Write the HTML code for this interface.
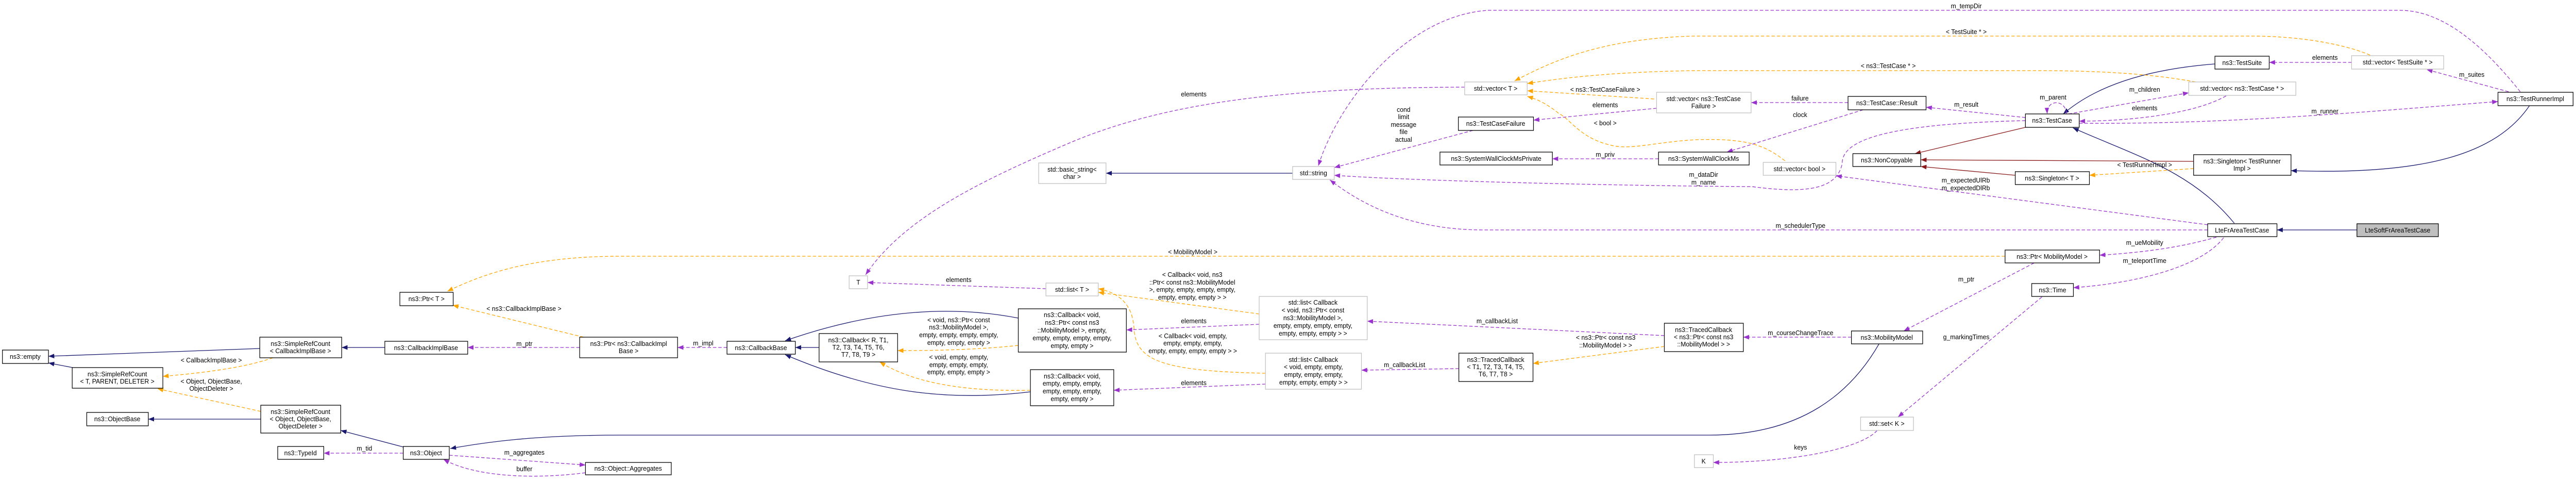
<!DOCTYPE html>
<html><head><meta charset="utf-8"><style>
html,body{margin:0;padding:0;background:#fff;width:100%;height:100%;overflow:hidden;}
svg{display:block;width:100%;height:100vh;}
text{font-family:"Liberation Sans",sans-serif;font-size:13px;fill:#000;}
.n{fill:#fff;stroke:#000;stroke-width:1.3;}
.g{fill:#fff;stroke:#bfbfbf;stroke-width:1.3;}
.s{fill:#bfbfbf;stroke:#000;stroke-width:1.3;}
.b{fill:none;stroke:#191970;stroke-width:1.3;marker-end:url(#mb);}
.r{fill:none;stroke:#8b1a1a;stroke-width:1.3;marker-end:url(#mr);}
.p{fill:none;stroke:#9a32cd;stroke-width:1.3;stroke-dasharray:7,4;marker-end:url(#mp);}
.o{fill:none;stroke:#ffa500;stroke-width:1.3;stroke-dasharray:7,4;marker-end:url(#mo);}
</style></head><body>
<svg viewBox="0 0 5315 933" preserveAspectRatio="none" xmlns="http://www.w3.org/2000/svg">
<defs>
<marker id="mb" markerUnits="userSpaceOnUse" markerWidth="12" markerHeight="9" refX="12" refY="4.5" orient="auto"><path d="M0,0 L12,4.5 L0,9 z" fill="#191970"/></marker>
<marker id="mr" markerUnits="userSpaceOnUse" markerWidth="12" markerHeight="9" refX="12" refY="4.5" orient="auto"><path d="M0,0 L12,4.5 L0,9 z" fill="#8b1a1a"/></marker>
<marker id="mp" markerUnits="userSpaceOnUse" markerWidth="12" markerHeight="9" refX="12" refY="4.5" orient="auto"><path d="M0,0 L12,4.5 L0,9 z" fill="#9a32cd"/></marker>
<marker id="mo" markerUnits="userSpaceOnUse" markerWidth="12" markerHeight="9" refX="12" refY="4.5" orient="auto"><path d="M0,0 L12,4.5 L0,9 z" fill="#ffa500"/></marker>
</defs>

<path class="b" d="M536,676 L100,691"/>
<path class="b" d="M150,713 L100,704"/>
<path class="b" d="M794,674 L705,674"/>
<path class="b" d="M538,813 L306,813"/>
<path class="b" d="M832,867 L703,835"/>
<path class="b" d="M1690,674 L1641,674"/>
<path class="b" d="M2101,617 C1980,595 1820,595 1620,661"/>
<path class="b" d="M2126,760 C1950,780 1800,760 1620,688"/>
<path class="b" d="M3877,667 C3820,760 3720,844 3526,844 L1282,844 C1100,844 1000,858 929,870"/>
<path class="b" d="M2667,336 L2282,336"/>
<path class="b" d="M4570,124 C4420,135 4320,170 4257,221"/>
<path class="b" d="M4610,433 C4520,330 4400,300 4277,248"/>
<path class="b" d="M5219,205 C5150,300 5000,340 4727,331"/>
<path class="b" d="M4863,446 L4698,446"/>

<path class="r" d="M4179,247 L3951,298"/>
<path class="r" d="M4526,313 L3963,310"/>
<path class="r" d="M4158,340 L3963,323"/>

<path class="p" d="M832,879 L668,879"/>
<path class="p" d="M927,883 L1208,902"/>
<path class="p" d="M1208,917 C1100,930 980,925 915,891"/>
<path class="p" d="M1196,674 L965,674"/>
<path class="p" d="M1500,674 L1398,674"/>
<path class="p" d="M2158,560 L1790,548"/>
<path class="p" d="M3022,169 C2700,170 2420,190 2200,280 C2000,360 1860,430 1786,533"/>
<path class="p" d="M2598,629 L2324,640"/>
<path class="p" d="M2611,745 L2298,757"/>
<path class="p" d="M3434,651 L2821,623"/>
<path class="p" d="M3010,715 L2809,718"/>
<path class="p" d="M3820,654 L3597,654"/>
<path class="p" d="M4197,510 L3928,642"/>
<path class="p" d="M4213,576 L3916,809"/>
<path class="p" d="M3873,835 C3840,870 3700,897 3535,897"/>
<path class="p" d="M4573,460 C4500,480 4420,490 4332,495"/>
<path class="p" d="M4588,461 C4540,520 4400,550 4278,558"/>
<path class="p" d="M4555,446 L3059,446 C2900,446 2800,390 2744,349"/>
<path class="p" d="M4555,436 L3788,341"/>
<path class="p" d="M4179,234 C3900,240 3800,270 3801,317 C3790,370 3720,375 3615,362 C3300,360 2900,350 2753,340"/>
<path class="p" d="M3039,253 L2753,325"/>
<path class="p" d="M5200,178 C5100,60 5020,20 4951,20 L3071,20 C2900,30 2760,200 2720,322"/>
<path class="p" d="M3418,210 L3164,233"/>
<path class="p" d="M3422,308 L3203,308"/>
<path class="p" d="M3813,199 L3613,199"/>
<path class="p" d="M3844,213 L3563,295"/>
<path class="p" d="M4179,228 L3974,208"/>
<path class="p" d="M4264,221 C4262,192 4222,192 4224,221"/>
<path class="p" d="M4268,221 L4516,180"/>
<path class="p" d="M4593,186 C4530,220 4400,235 4290,235"/>
<path class="p" d="M4290,239 C4600,242 4900,215 5154,197"/>
<path class="p" d="M4852,121 L4682,121"/>
<path class="p" d="M5176,178 L5007,135"/>

<path class="o" d="M563,694 C500,715 400,725 336,730"/>
<path class="o" d="M538,798 L325,754"/>
<path class="o" d="M1204,654 L934,592"/>
<path class="o" d="M4137,497 L1282,497 C1100,497 1000,530 923,565"/>
<path class="o" d="M2101,670 C2000,680 1900,680 1852,680"/>
<path class="o" d="M2126,757 C1980,760 1880,740 1815,702"/>
<path class="o" d="M2598,609 L2266,567"/>
<path class="o" d="M2611,724 C2400,720 2345,700 2340,640 C2338,600 2320,570 2266,560"/>
<path class="o" d="M3434,672 L3163,705"/>
<path class="o" d="M4890,107 C4850,90 4760,70 4645,70 L3495,70 C3300,75 3200,120 3125,157"/>
<path class="o" d="M4530,159 C4450,145 4350,137 4200,137 L3495,137 C3300,140 3200,155 3151,162"/>
<path class="o" d="M3413,192 L3151,176"/>
<path class="o" d="M3683,312 C3640,280 3600,268 3500,271 C3420,275 3370,290 3330,283 C3260,270 3240,230 3216,220 C3190,200 3170,192 3151,187"/>
<path class="o" d="M4526,327 L4311,340"/>

<g text-anchor="middle">
<rect class="n" x="5" y="679" width="95" height="26"/><text x="52" y="696">ns3::empty</text>
<rect class="n" x="536" y="654" width="169" height="40"/><text x="620" y="671">ns3::SimpleRefCount</text><text x="620" y="685">&lt; CallbackImplBase &gt;</text>
<rect class="n" x="149" y="713" width="187" height="40"/><text x="242" y="730">ns3::SimpleRefCount</text><text x="242" y="744">&lt; T, PARENT, DELETER &gt;</text>
<rect class="n" x="179" y="800" width="127" height="26"/><text x="242" y="817">ns3::ObjectBase</text>
<rect class="n" x="538" y="786" width="165" height="54"/><text x="620" y="803">ns3::SimpleRefCount</text><text x="620" y="817">&lt; Object, ObjectBase,</text><text x="620" y="831">ObjectDeleter &gt;</text>
<rect class="n" x="573" y="866" width="95" height="25"/><text x="620" y="883">ns3::TypeId</text>
<rect class="n" x="832" y="866" width="95" height="25"/><text x="879" y="883">ns3::Object</text>
<rect class="n" x="825" y="567" width="110" height="26"/><text x="880" y="584">ns3::Ptr&lt; T &gt;</text>
<rect class="n" x="794" y="662" width="171" height="25"/><text x="879" y="679">ns3::CallbackImplBase</text>
<rect class="n" x="1196" y="654" width="202" height="40"/><text x="1297" y="671">ns3::Ptr&lt; ns3::CallbackImpl</text><text x="1297" y="685">Base &gt;</text>
<rect class="n" x="1500" y="662" width="141" height="25"/><text x="1570" y="679">ns3::CallbackBase</text>
<rect class="n" x="1690" y="647" width="162" height="55"/><text x="1771" y="664">ns3::Callback&lt; R, T1,</text><text x="1771" y="678">T2, T3, T4, T5, T6,</text><text x="1771" y="692">T7, T8, T9 &gt;</text>
<rect class="n" x="1208" y="897" width="177" height="24"/><text x="1296" y="913">ns3::Object::Aggregates</text>
<rect class="g" x="1752" y="535" width="38" height="25"/><text x="1771" y="552">T</text>
<rect class="g" x="2158" y="549" width="108" height="25"/><text x="2212" y="566">std::list&lt; T &gt;</text>
<rect class="n" x="2101" y="599" width="223" height="84"/><text x="2212" y="615">ns3::Callback&lt; void,</text><text x="2212" y="630">ns3::Ptr&lt; const ns3</text><text x="2212" y="645">::MobilityModel &gt;, empty,</text><text x="2212" y="660">empty, empty, empty, empty,</text><text x="2212" y="675">empty, empty &gt;</text>
<rect class="n" x="2126" y="717" width="172" height="70"/><text x="2212" y="734">ns3::Callback&lt; void,</text><text x="2212" y="748">empty, empty, empty,</text><text x="2212" y="763">empty, empty, empty,</text><text x="2212" y="778">empty, empty &gt;</text>
<rect class="g" x="2598" y="575" width="223" height="84"/><text x="2709" y="591">std::list&lt; Callback</text><text x="2709" y="606">&lt; void, ns3::Ptr&lt; const</text><text x="2709" y="621">ns3::MobilityModel &gt;,</text><text x="2709" y="636">empty, empty, empty, empty,</text><text x="2709" y="651">empty, empty, empty &gt; &gt;</text>
<rect class="g" x="2611" y="685" width="198" height="70"/><text x="2710" y="702">std::list&lt; Callback</text><text x="2710" y="716">&lt; void, empty, empty,</text><text x="2710" y="731">empty, empty, empty,</text><text x="2710" y="746">empty, empty, empty &gt; &gt;</text>
<rect class="n" x="3010" y="685" width="153" height="55"/><text x="3086" y="702">ns3::TracedCallback</text><text x="3086" y="716">&lt; T1, T2, T3, T4, T5,</text><text x="3086" y="730">T6, T7, T8 &gt;</text>
<rect class="n" x="3434" y="627" width="163" height="55"/><text x="3515" y="644">ns3::TracedCallback</text><text x="3515" y="658">&lt; ns3::Ptr&lt; const ns3</text><text x="3515" y="672">::MobilityModel &gt; &gt;</text>
<rect class="g" x="3496" y="882" width="39" height="25"/><text x="3515" y="899">K</text>
<rect class="n" x="4137" y="485" width="195" height="25"/><text x="4234" y="502">ns3::Ptr&lt; MobilityModel &gt;</text>
<rect class="n" x="4192" y="550" width="86" height="25"/><text x="4235" y="567">ns3::Time</text>
<rect class="n" x="3820" y="642" width="147" height="25"/><text x="3893" y="659">ns3::MobilityModel</text>
<rect class="g" x="3839" y="809" width="109" height="26"/><text x="3893" y="826">std::set&lt; K &gt;</text>
<rect class="n" x="4555" y="434" width="143" height="25"/><text x="4626" y="451">LteFrAreaTestCase</text>
<rect class="s" x="4863" y="434" width="168" height="25"/><text x="4947" y="451">LteSoftFrAreaTestCase</text>
<rect class="g" x="2143" y="316" width="139" height="40"/><text x="2212" y="333">std::basic_string&lt;</text><text x="2212" y="347">char &gt;</text>
<rect class="g" x="3022" y="159" width="129" height="25"/><text x="3086" y="176">std::vector&lt; T &gt;</text>
<rect class="n" x="3009" y="227" width="155" height="26"/><text x="3086" y="244">ns3::TestCaseFailure</text>
<rect class="n" x="2971" y="295" width="232" height="25"/><text x="3087" y="312">ns3::SystemWallClockMsPrivate</text>
<rect class="g" x="2667" y="323" width="86" height="25"/><text x="2710" y="340">std::string</text>
<rect class="g" x="3418" y="179" width="195" height="40"/><text x="3515" y="196">std::vector&lt; ns3::TestCase</text><text x="3515" y="210">Failure &gt;</text>
<rect class="n" x="3422" y="295" width="187" height="25"/><text x="3515" y="312">ns3::SystemWallClockMs</text>
<rect class="n" x="3813" y="187" width="161" height="26"/><text x="3893" y="204">ns3::TestCase::Result</text>
<rect class="n" x="4179" y="221" width="111" height="26"/><text x="4234" y="238">ns3::TestCase</text>
<rect class="n" x="3823" y="298" width="140" height="25"/><text x="3893" y="315">ns3::NonCopyable</text>
<rect class="g" x="3638" y="315" width="150" height="25"/><text x="3713" y="332">std::vector&lt; bool &gt;</text>
<rect class="n" x="4158" y="333" width="153" height="25"/><text x="4234" y="350">ns3::Singleton&lt; T &gt;</text>
<rect class="n" x="4570" y="109" width="112" height="25"/><text x="4626" y="126">ns3::TestSuite</text>
<rect class="g" x="4516" y="159" width="221" height="26"/><text x="4626" y="176">std::vector&lt; ns3::TestCase * &gt;</text>
<rect class="n" x="4526" y="300" width="201" height="40"/><text x="4626" y="317">ns3::Singleton&lt; TestRunner</text><text x="4626" y="331">Impl &gt;</text>
<rect class="g" x="4852" y="108" width="190" height="26"/><text x="4947" y="125">std::vector&lt; TestSuite * &gt;</text>
<rect class="n" x="5154" y="179" width="155" height="26"/><text x="5231" y="196">ns3::TestRunnerImpl</text>

<text x="436" y="703">&lt; CallbackImplBase &gt;</text>
<text x="436" y="744">&lt; Object, ObjectBase,</text><text x="436" y="758">ObjectDeleter &gt;</text>
<text x="752" y="874">m_tid</text>
<text x="1081" y="603">&lt; ns3::CallbackImplBase &gt;</text>
<text x="1082" y="671">m_ptr</text>
<text x="1451" y="670">m_impl</text>
<text x="1082" y="882">m_aggregates</text>
<text x="1082" y="914">buffer</text>
<text x="1978" y="547">elements</text>
<text x="2461" y="493">&lt; MobilityModel &gt;</text>
<text x="2460" y="537">&lt; Callback&lt; void, ns3</text><text x="2460" y="552">::Ptr&lt; const ns3::MobilityModel</text><text x="2460" y="566">&gt;, empty, empty, empty, empty,</text><text x="2460" y="581">empty, empty, empty &gt; &gt;</text>
<text x="1978" y="625">&lt; void, ns3::Ptr&lt; const</text><text x="1978" y="639">ns3::MobilityModel &gt;,</text><text x="1978" y="654">empty, empty, empty, empty,</text><text x="1978" y="669">empty, empty, empty &gt;</text>
<text x="2463" y="627">elements</text>
<text x="2461" y="656">&lt; Callback&lt; void, empty,</text><text x="2461" y="670">empty, empty, empty,</text><text x="2461" y="685">empty, empty, empty, empty &gt; &gt;</text>
<text x="1978" y="697">&lt; void, empty, empty,</text><text x="1978" y="712">empty, empty, empty,</text><text x="1978" y="726">empty, empty, empty &gt;</text>
<text x="2463" y="747">elements</text>
<text x="3089" y="627">m_callbackList</text>
<text x="3313" y="659">&lt; ns3::Ptr&lt; const ns3</text><text x="3313" y="674">::MobilityModel &gt; &gt;</text>
<text x="2898" y="712">m_callbackList</text>
<text x="3715" y="442">m_schedulerType</text>
<text x="4057" y="546">m_ptr</text>
<text x="3715" y="650">m_courseChangeTrace</text>
<text x="4057" y="658">g_markingTimes</text>
<text x="3715" y="872">keys</text>
<text x="2463" y="187">elements</text>
<text x="2896" y="217">cond</text><text x="2896" y="231">limit</text><text x="2896" y="246">message</text><text x="2896" y="260">file</text><text x="2896" y="275">actual</text>
<text x="3312" y="178">&lt; ns3::TestCaseFailure &gt;</text>
<text x="3312" y="208">elements</text>
<text x="3312" y="243">&lt; bool &gt;</text>
<text x="3312" y="304">m_priv</text>
<text x="3515" y="343">m_dataDir</text><text x="3515" y="358">m_name</text>
<text x="4057" y="16">m_tempDir</text>
<text x="4057" y="66">&lt; TestSuite * &gt;</text>
<text x="3896" y="132">&lt; ns3::TestCase * &gt;</text>
<text x="3714" y="195">failure</text>
<text x="3714" y="227">clock</text>
<text x="4057" y="207">m_result</text>
<text x="4236" y="193">m_parent</text>
<text x="4056" y="354">m_expectedUlRb</text><text x="4056" y="369">m_expectedDlRb</text>
<text x="4425" y="178">m_children</text>
<text x="4425" y="214">elements</text>
<text x="4797" y="220">m_runner</text>
<text x="4425" y="324">&lt; TestRunnerImpl &gt;</text>
<text x="4425" y="475">m_ueMobility</text>
<text x="4425" y="510">m_teleportTime</text>
<text x="4797" y="116">elements</text>
<text x="5100" y="149">m_suites</text>
</g>
</svg>
</body></html>
